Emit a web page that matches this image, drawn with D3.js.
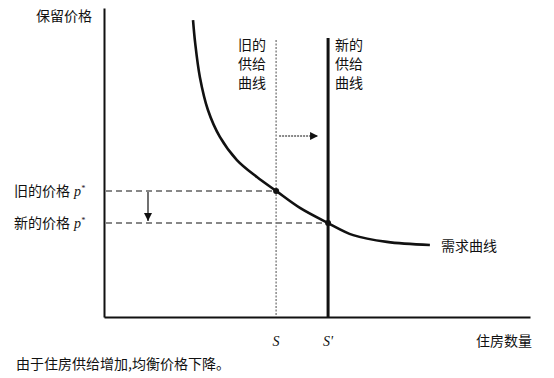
<!DOCTYPE html>
<html>
<head>
  <meta charset="utf-8">
  <title>住房供给增加</title>
  <style>
    body { margin: 0; background: #fff; }
    text { font-family: "Noto Sans CJK SC", sans-serif; font-size: 14px; fill: #111; }
    .it { font-family: "Liberation Serif", serif; font-style: italic; }
  </style>
</head>
<body>
  <svg width="554" height="378"></svg>
  <script src="https://d3js.org/d3.v7.min.js"></script>
  <script>
  // 数据：数量和价格都是 0-100 的相对单位
  var supplyQty = [40.4, 52.6];            // S, S'
  var supplyNames = [['旧的', '供给', '曲线'], ['新的', '供给', '曲线']];
  var qtyLabels = ['S', "S'"];
  var prices = [40.8, 30.4];               // 旧 p*, 新 p*
  var priceNames = ['旧的价格', '新的价格'];
  var demandQty   = [20.9, 21.4, 22.5, 24.4, 27.2, 31.2, 35.9, 40.4, 46.0, 52.6, 58.5, 66.4, 76.5];
  var demandPrice = [96.1, 88.7, 77.7, 67.0, 58.3, 50.8, 45.3, 40.8, 35.3, 30.4, 26.5, 24.3, 23.3];

  var svg = d3.select('svg');
  var x = d3.scaleLinear().domain([0, 100]).range([104, 530]);
  var y = d3.scaleLinear().domain([0, 100]).range([317, 8]);

  var defs = svg.append('defs');
  defs.append('marker')
    .attr('id', 'arr')
    .attr('viewBox', '0 0 10 10')
    .attr('refX', 10).attr('refY', 5)
    .attr('markerWidth', 10).attr('markerHeight', 8)
    .attr('markerUnits', 'userSpaceOnUse')
    .attr('orient', 'auto')
    .append('path').attr('d', 'M0,0L10,5L0,10Z').attr('fill', '#111');

  // 坐标轴
  svg.append('g')
    .attr('transform', 'translate(0,' + y(0) + ')')
    .call(d3.axisBottom(x).tickValues([]).tickSizeOuter(0))
    .select('.domain').attr('stroke', '#111').attr('stroke-width', 2.2);
  svg.append('g')
    .attr('transform', 'translate(' + x(0) + ',0)')
    .call(d3.axisLeft(y).tickValues([]).tickSizeOuter(0))
    .select('.domain').attr('stroke', '#111').attr('stroke-width', 2);

  // 价格虚线
  svg.selectAll('.pline').data(prices).enter().append('line')
    .attr('x1', x(0) + 2)
    .attr('x2', function(d, i) { return x(supplyQty[i]); })
    .attr('y1', function(d) { return y(d); })
    .attr('y2', function(d) { return y(d); })
    .attr('stroke', '#111').attr('stroke-width', 1.1)
    .attr('stroke-dasharray', '6,4');

  // 供给曲线
  svg.append('line')
    .attr('x1', x(supplyQty[0])).attr('x2', x(supplyQty[0]))
    .attr('y1', 40).attr('y2', y(0))
    .attr('stroke', '#777').attr('stroke-width', 1.3)
    .attr('stroke-dasharray', '2,1.5');
  svg.append('line')
    .attr('x1', x(supplyQty[1])).attr('x2', x(supplyQty[1]))
    .attr('y1', 38).attr('y2', y(0))
    .attr('stroke', '#111').attr('stroke-width', 3);

  // 需求曲线
  var pts = demandQty.map(function(q, i) { return [x(q), y(demandPrice[i])]; });
  svg.append('path')
    .attr('d', d3.line().curve(d3.curveCatmullRom)(pts))
    .attr('fill', 'none').attr('stroke', '#111').attr('stroke-width', 2.6);

  // 交点
  svg.selectAll('.dot').data(prices).enter().append('circle')
    .attr('cx', function(d, i) { return x(supplyQty[i]); })
    .attr('cy', function(d) { return y(d); })
    .attr('r', 3).attr('fill', '#111');

  // 箭头
  svg.append('line')
    .attr('x1', x(supplyQty[0]) + 3).attr('x2', x(supplyQty[1]) - 10)
    .attr('y1', 136).attr('y2', 136)
    .attr('stroke', '#111').attr('stroke-width', 1)
    .attr('stroke-dasharray', '2,1')
    .attr('marker-end', 'url(#arr)');
  svg.append('line')
    .attr('x1', 148).attr('x2', 148)
    .attr('y1', y(prices[0]) + 1).attr('y2', y(prices[1]) - 2)
    .attr('stroke', '#111').attr('stroke-width', 1.2)
    .attr('marker-end', 'url(#arr)');

  // 文字
  svg.append('text').attr('x', 36).attr('y', 21).text('保留价格');
  svg.append('text').attr('x', 532).attr('y', 346).attr('text-anchor', 'end').text('住房数量');
  svg.append('text').attr('x', 441).attr('y', 251).text('需求曲线');
  svg.append('text').attr('x', 16).attr('y', 369).text('由于住房供给增加,均衡价格下降。');

  var pl = svg.selectAll('.plab').data(prices).enter().append('text')
    .attr('x', 14).attr('y', function(d) { return y(d) + 5; });
  pl.append('tspan').text(function(d, i) { return priceNames[i]; });
  pl.append('tspan').attr('class', 'it').attr('dx', 4).text('p');
  pl.append('tspan').attr('class', 'it').attr('dy', -5).style('font-size', '8px').text('*');

  svg.selectAll('.qlab').data(supplyQty).enter().append('text')
    .attr('class', 'it')
    .attr('x', function(d) { return x(d); })
    .attr('y', 346).attr('text-anchor', 'middle')
    .text(function(d, i) { return qtyLabels[i]; });

  supplyQty.forEach(function(q, i) {
    svg.selectAll('.sl' + i).data(supplyNames[i]).enter().append('text')
      .attr('x', i === 0 ? x(q) - 38 : x(q) + 7)
      .attr('y', function(d, j) { return 50 + j * 19; })
      .text(function(d) { return d; });
  });
  </script>
</body>
</html>
